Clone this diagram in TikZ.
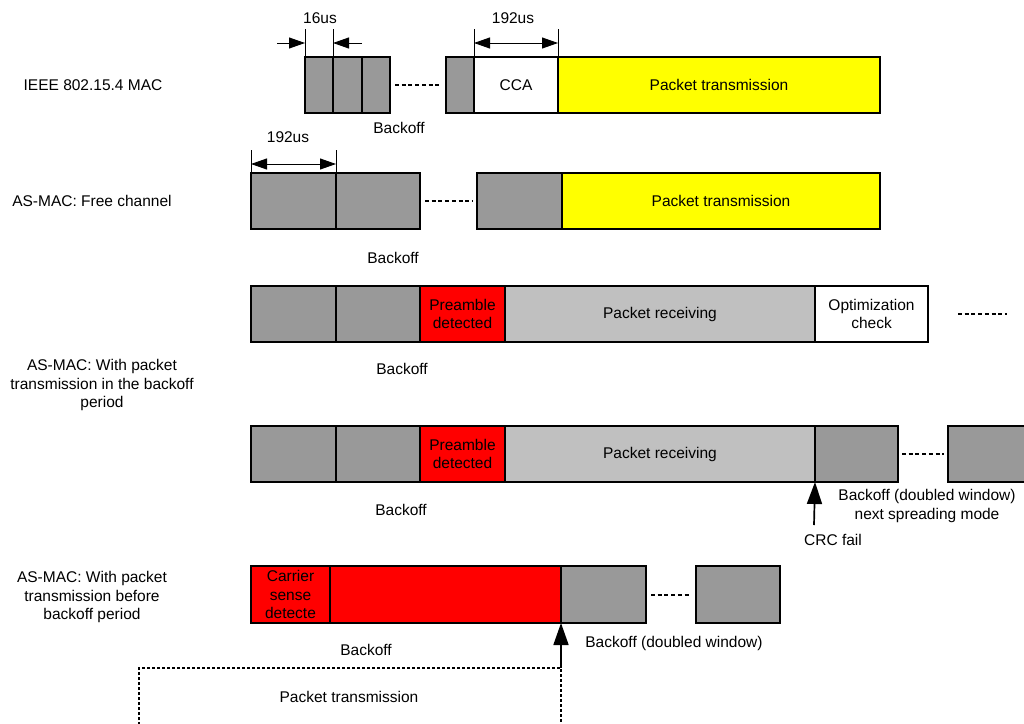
\documentclass[tikz,border=0pt]{standalone}
\usepackage{fontspec}
\setmainfont{Liberation Sans}
\usetikzlibrary{positioning,arrows.meta}

\definecolor{boGray}{RGB}{153,153,153}
\definecolor{rxGray}{RGB}{192,192,192}
\definecolor{hotRed}{RGB}{255,0,0}
\definecolor{txYellow}{RGB}{255,255,0}

\tikzset{
  txt/.style={font=\fontsize{15.5}{18.5}\selectfont, align=center, inner sep=0pt},
  slot/.style={txt, draw, line width=1.7pt, outer sep=0pt, anchor=north west},
  bo/.style={slot, fill=boGray},
  preamble/.style={slot, fill=hotRed},
  rxpkt/.style={slot, fill=rxGray},
  txpkt/.style={slot, fill=txYellow},
  blank/.style={slot, fill=white},
  gap/.style={line width=2pt, dash pattern=on 4pt off 2.7pt},
  txline/.style={line width=2pt, dash pattern=on 3pt off 2pt},
  dim/.style={line width=0.9pt},
  tip/.style={line width=1.7pt, -{Triangle[length=22pt,width=15pt]}},
  small tip/.style={-{Triangle[length=16pt,width=11pt]}},
  both tips/.style={{Triangle[length=16pt,width=11pt]}-{Triangle[length=16pt,width=11pt]}}
}

\begin{document}
\begin{tikzpicture}[x=1pt,y=-1pt]
\useasboundingbox (0,0) rectangle (1024,723);
\clip (0,0) rectangle (1024,723);

% IEEE 802.15.4 MAC
\node[txt] (lab1) at (93,85) {IEEE 802.15.4 MAC};
\node[bo, minimum width=28pt, minimum height=56pt] (a1) at (305,57) {};
\node[bo, minimum width=29pt, minimum height=56pt, right=0pt of a1] (a2) {};
\node[bo, minimum width=28pt, minimum height=56pt, right=0pt of a2] (a3) {};
\node[bo, minimum width=28pt, minimum height=56pt] (a4) at (446,57) {};
\node[blank, minimum width=84pt, minimum height=56pt, right=0pt of a4] (cca) {CCA};
\node[txpkt, minimum width=322pt, minimum height=56pt, right=0pt of cca] (tx1) {Packet transmission};
\draw[gap] ([xshift=5pt]a3.east) -- ([xshift=-5pt]a4.west);
\node[txt] (back1) at (399,128) {Backoff};
% 16us
\draw[dim] (a1.north west) -- ++(0,-28) coordinate (t1);
\draw[dim] (a2.north west) -- ++(0,-28) coordinate (t2);
\draw[dim, small tip] ([shift={(-28,-14)}]a1.north west) -- ([shift={(0,-14)}]a1.north west);
\draw[dim, small tip] ([shift={(29,-14)}]a2.north west) -- ([shift={(0,-14)}]a2.north west);
\node[txt] (d16) at (320,18) {16us};
% 192us
\draw[dim] (cca.north west) -- ++(0,-28);
\draw[dim] (cca.north east) -- ++(0,-28);
\draw[dim, both tips] ([shift={(0,-14)}]cca.north west) -- ([shift={(0,-14)}]cca.north east);
\node[txt] (d192a) at (513,18) {192us};

% AS-MAC: free channel
\node[txt] (lab2) at (92,201) {AS-MAC: Free channel};
\node[bo, minimum width=85pt, minimum height=56pt] (b1) at (251,173) {};
\node[bo, minimum width=84pt, minimum height=56pt, right=0pt of b1] (b2) {};
\node[bo, minimum width=85pt, minimum height=56pt] (b3) at (477,173) {};
\node[txpkt, minimum width=318pt, minimum height=56pt, right=0pt of b3] (tx2) {Packet transmission};
\draw[gap] ([xshift=5pt]b2.east) -- ([xshift=-5pt]b3.west);
\node[txt] (back2) at (393,258) {Backoff};
\draw[dim] (b1.north west) -- ++(0,-23);
\draw[dim] (b1.north east) -- ++(0,-23);
\draw[dim, both tips] ([shift={(0,-9)}]b1.north west) -- ([shift={(0,-9)}]b1.north east);
\node[txt] (d192b) at (288,137) {192us};

% AS-MAC: packet in backoff, optimization
\node[txt] (lab3) at (102,385) {AS-MAC: With packet\\transmission in the backoff\\period};
\node[bo, minimum width=85pt, minimum height=56pt] (c1) at (251,286) {};
\node[bo, minimum width=84pt, minimum height=56pt, right=0pt of c1] (c2) {};
\node[preamble, minimum width=85pt, minimum height=56pt, right=0pt of c2] (c3) {Preamble\\detected};
\node[rxpkt, minimum width=310pt, minimum height=56pt, right=0pt of c3] (c4) {Packet receiving};
\node[blank, minimum width=113pt, minimum height=56pt, right=0pt of c4] (c5) {Optimization\\check};
\draw[gap] ([xshift=30pt]c5.east) -- ++(49,0);
\node[txt] (back3) at (402,369) {Backoff};

% AS-MAC: packet in backoff, CRC fail
\node[bo, minimum width=85pt, minimum height=56pt] (d1) at (251,426) {};
\node[bo, minimum width=84pt, minimum height=56pt, right=0pt of d1] (d2) {};
\node[preamble, minimum width=85pt, minimum height=56pt, right=0pt of d2] (d3) {Preamble\\detected};
\node[rxpkt, minimum width=310pt, minimum height=56pt, right=0pt of d3] (d4) {Packet receiving};
\node[bo, minimum width=83pt, minimum height=56pt, right=0pt of d4] (d5) {};
\node[bo, minimum width=90pt, minimum height=56pt] (d6) at (948,426) {};
\draw[gap] ([xshift=4pt]d5.east) -- ([xshift=-4pt]d6.west);
\node[txt] (back4) at (401,510) {Backoff};
\coordinate (crc) at (814,525);
\draw[tip] (crc) -- (d4.south east);
\node[txt] (crctxt) at (833,540) {CRC fail};
\node[txt] (dbl1) at (927,506) {Backoff (doubled window)\\next spreading mode};

% AS-MAC: packet before backoff
\node[txt] (lab4) at (92,597) {AS-MAC: With packet\\transmission before\\backoff period};
\node[preamble, minimum width=79pt, minimum height=57pt] (e1) at (251,566) {Carrier\\sense\\detecte};
\node[preamble, minimum width=231pt, minimum height=57pt, right=0pt of e1] (e2) {};
\node[bo, minimum width=85pt, minimum height=57pt, right=0pt of e2] (e3) {};
\node[bo, minimum width=84pt, minimum height=57pt] (e4) at (696,566) {};
\draw[gap] ([xshift=5pt]e3.east) -- ([xshift=-5pt]e4.west);
\node[txt] (back5) at (366,650) {Backoff};
\node[txt] (dbl2) at (674,643) {Backoff (doubled window)};
\coordinate (tx) at (e2.south east |- 0,668);
\coordinate (txl) at (139,730);
\coordinate (txr) at (e2.south east |- 0,730);
\draw[tip] (tx) -- (e2.south east);
\draw[txline] (txl) |- (tx) -- (txr);
\node[txt] (txtxt) at (349,697) {Packet transmission};
\end{tikzpicture}
\end{document}
